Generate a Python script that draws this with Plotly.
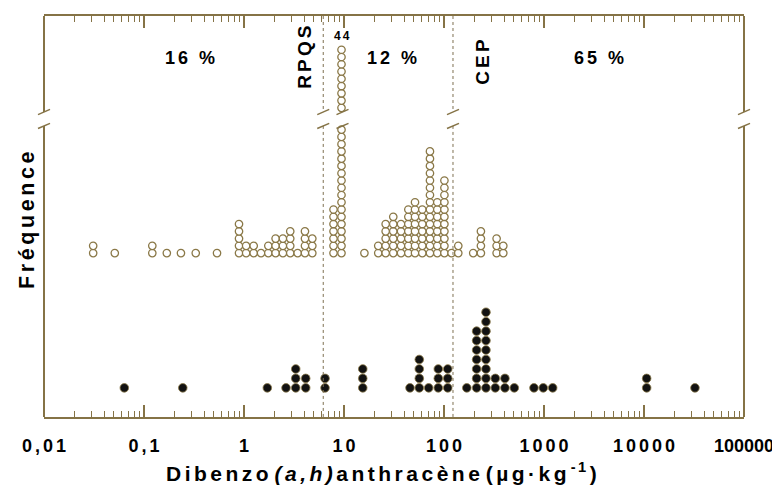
import numpy as np
import plotly.graph_objects as go

# ---------------- data ----------------
# Upper series (open circles): concentration of each stacked column, number of samples
upper_conc = [0.031, 0.051, 0.121, 0.169, 0.234, 0.329, 0.537, 0.891, 1.05, 1.25,
              1.48, 1.75, 2.07, 2.45, 2.90, 3.44, 4.07, 4.82, 7.85, 9.44,
              16.0, 22.0, 26.1, 31.1, 37.2, 44.0, 51.3, 60.7, 72.4, 85.7,
              101, 119, 139, 196, 234, 336, 392]
upper_count = [2, 1, 2, 1, 1, 1, 1, 5, 2, 2,
               1, 2, 3, 3, 4, 1, 4, 3, 7, 44,
               1, 2, 5, 6, 5, 7, 8, 7, 15, 8,
               11, 1, 2, 1, 4, 3, 2]
# Lower series (filled dots)
lower_conc = [0.0635, 0.244, 1.71, 2.63, 3.29, 4.14, 6.46, 15.4, 45.7, 56.6,
              70.3, 87.7, 109, 169, 212, 263, 326, 407, 505, 794,
              984, 1222, 10640, 32360]
lower_count = [1, 1, 1, 1, 3, 2, 2, 3, 1, 4,
               1, 3, 3, 1, 7, 9, 2, 2, 1, 1,
               1, 1, 2, 1]
# Guideline values
guide_names = ["RPQS", "CEP"]
guide_values = [6.2, 123]
# Percent labels per zone
zone_labels = ["16 %", "12 %", "65 %"]
tick_values = [0.01, 0.1, 1, 10, 100, 1000, 10000, 100000]
tick_labels = ["0,01", "0,1", "1", "10", "100", "1000", "10000", "100000"]

# ---------------- geometry / style ----------------
W, H = 780, 494
OFF = 8  # default page body margin
L, R, T, B = 44, 744, 14, 417
LOGMIN, LOGMAX = -2, 5
FRAME = "#857346"
CIRC = "#8a7847"
FONT = "Liberation Sans, Arial, sans-serif"
SP = "\u2006"  # letter spacing


def spaced(s):
    return SP.join(list(s))


def xp(px):
    return (px - L) / (R - L)


def yp(py):
    return (B - py) / (B - T)


def xpaper_from_value(v):
    return (np.log10(v) - LOGMIN) / (LOGMAX - LOGMIN)


base_u, step_u = B - 252.3, 7.3
base_l, step_l = B - 387.7, 9.5
n_below, above_start, n_above = 18, 20, 9
brk_hi, brk_lo = 110.5, 124.5  # pixel y of the break slashes

ux, uy = [], []
break_cols = []
for c, n in zip(upper_conc, upper_count):
    if n <= n_below:
        ks = list(range(n))
    else:
        ks = list(range(n_below)) + list(range(above_start, above_start + n_above))
        break_cols.append((c, n))
    for k in ks:
        ux.append(c)
        uy.append(base_u + k * step_u)

lx, ly = [], []
for c, n in zip(lower_conc, lower_count):
    for k in range(n):
        lx.append(c)
        ly.append(base_l + k * step_l)

fig = go.Figure()
fig.add_trace(go.Scatter(x=ux, y=uy, mode="markers",
                         marker=dict(symbol="circle", size=7.4, color="white",
                                     line=dict(color=CIRC, width=1.3)),
                         hoverinfo="skip", showlegend=False))
fig.add_trace(go.Scatter(x=lx, y=ly, mode="markers",
                         marker=dict(symbol="circle", size=8.6, color="#121212",
                                     line=dict(color=CIRC, width=0.8)),
                         hoverinfo="skip", showlegend=False))

shapes = []
for xx in (0, 1):
    shapes.append(dict(type="line", xref="paper", yref="paper", x0=xx, x1=xx,
                       y0=1, y1=yp(brk_hi), line=dict(color=FRAME, width=2)))
    shapes.append(dict(type="line", xref="paper", yref="paper", x0=xx, x1=xx,
                       y0=yp(brk_lo), y1=0, line=dict(color=FRAME, width=2)))
for v in guide_values:
    xx = xpaper_from_value(v)
    shapes.append(dict(type="line", xref="paper", yref="paper", x0=xx, x1=xx,
                       y0=1, y1=yp(brk_hi), line=dict(color="#7d7050", width=1, dash="dot")))
    shapes.append(dict(type="line", xref="paper", yref="paper", x0=xx, x1=xx,
                       y0=yp(brk_lo), y1=0, line=dict(color="#7d7050", width=1, dash="dot")))
slash_x = [0, 1] + [xpaper_from_value(v) for v in guide_values] + \
          [xpaper_from_value(c) + 1.0 / (R - L) for c, _ in break_cols]
for xx in slash_x:
    for py in (brk_hi, brk_lo):
        shapes.append(dict(type="line", xref="paper", yref="paper",
                           xsizemode="pixel", ysizemode="pixel",
                           xanchor=xx, yanchor=yp(py),
                           x0=-6, x1=6, y0=-2.6, y1=2.6,
                           line=dict(color=FRAME, width=1.5)))

annotations = []
bold = dict(family=FONT, color="black", weight="bold")


def ann(text, px, py, size, angle=0, ref="paper", x=None, y=None):
    d = dict(text=text, showarrow=False, xanchor="center", yanchor="middle",
             textangle=angle, font=dict(size=size, **bold))
    if ref == "paper":
        d.update(xref="paper", yref="paper", x=xp(px), y=yp(py))
    else:
        d.update(xref="x", yref="y", x=x, y=y)
    return d


zone_px = [190, 392, 599]
for t, px in zip(zone_labels, zone_px):
    annotations.append(ann(spaced(t), px, 56, 18))
guide_lab_px = [(305, 56), (483, 60)]
for t, (px, py) in zip(guide_names, guide_lab_px):
    annotations.append(ann(spaced(t), px, py, 19, angle=-90))
for c, n in break_cols:
    annotations.append(ann(spaced(str(n)), 0, 0, 12, ref="data", x=np.log10(c),
                           y=base_u + (above_start + n_above - 1) * step_u + 14))
annotations.append(ann(spaced("Fréquence"), 27, 220, 21.5, angle=-90))
xtitle = spaced("Dibenzo") + " " + "<i>" + spaced("(a,h)") + "</i>" + SP + \
    spaced("anthracène") + " " + spaced("(µg·kg") + "<sup> " + spaced("-1") + "</sup>" + SP + ")"
annotations.append(ann(xtitle, 381, 472, 21))

minor_vals = [m * 10.0 ** d for d in range(LOGMIN, LOGMAX) for m in range(2, 10)]
tick_text = [spaced(t) if len(t) < 6 else t for t in tick_labels]

fig.update_layout(
    width=W - OFF, height=H - OFF,
    margin=dict(l=L - OFF, r=W - R, t=T - OFF, b=H - B, pad=0),
    paper_bgcolor="white", plot_bgcolor="white",
    shapes=shapes, annotations=annotations,
    xaxis=dict(type="log", range=[LOGMIN - 0.0005, LOGMAX + 0.0005],
               showline=True, linecolor=FRAME, linewidth=2, mirror="ticks",
               ticks="inside", ticklen=12, tickwidth=1.5, tickcolor=FRAME,
               tickvals=tick_values, ticktext=tick_text,
               tickfont=dict(size=18, **bold), ticklabelstandoff=11,
               ticklabeloverflow="allow",
               minor=dict(ticks="inside", ticklen=6, tickwidth=1.2, tickcolor=FRAME,
                          tickvals=minor_vals, showgrid=False),
               showgrid=False, zeroline=False),
    yaxis=dict(range=[0, B - T], showline=False, showticklabels=False, ticks="",
               showgrid=False, zeroline=False),
)

fig.write_html("out.html")
